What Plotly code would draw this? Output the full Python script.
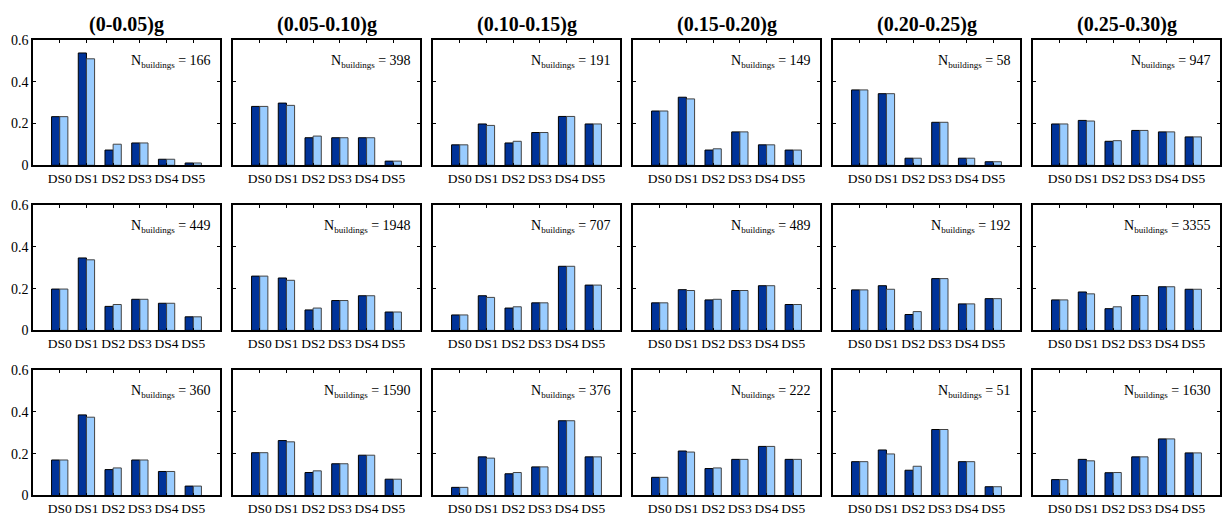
import plotly.graph_objects as go

categories = ["DS0", "DS1", "DS2", "DS3", "DS4", "DS5"]
pga_titles = ["(0-0.05)g", "(0.05-0.10)g", "(0.10-0.15)g", "(0.15-0.20)g", "(0.20-0.25)g", "(0.25-0.30)g"]

# Row 1
r1_observed = [
    [0.233, 0.538, 0.073, 0.107, 0.029, 0.011],
    [0.282, 0.298, 0.132, 0.132, 0.132, 0.020],
    [0.098, 0.198, 0.107, 0.157, 0.234, 0.198],
    [0.260, 0.326, 0.073, 0.160, 0.098, 0.073],
    [0.361, 0.343, 0.034, 0.206, 0.034, 0.017],
    [0.198, 0.215, 0.115, 0.167, 0.160, 0.136],
]
r1_model = [
    [0.233, 0.510, 0.101, 0.107, 0.029, 0.011],
    [0.282, 0.287, 0.140, 0.132, 0.132, 0.020],
    [0.098, 0.191, 0.115, 0.157, 0.234, 0.198],
    [0.260, 0.318, 0.079, 0.160, 0.098, 0.073],
    [0.361, 0.343, 0.034, 0.206, 0.034, 0.017],
    [0.198, 0.212, 0.118, 0.167, 0.160, 0.136],
]
r1_counts = [166, 398, 191, 149, 58, 947]

# Row 2
r2_observed = [
    [0.198, 0.347, 0.115, 0.149, 0.130, 0.065],
    [0.260, 0.251, 0.098, 0.143, 0.166, 0.088],
    [0.074, 0.166, 0.107, 0.132, 0.307, 0.217],
    [0.132, 0.195, 0.146, 0.191, 0.214, 0.124],
    [0.194, 0.214, 0.076, 0.248, 0.127, 0.152],
    [0.146, 0.184, 0.104, 0.167, 0.209, 0.197],
]
r2_model = [
    [0.198, 0.338, 0.124, 0.149, 0.130, 0.065],
    [0.260, 0.240, 0.107, 0.143, 0.166, 0.088],
    [0.074, 0.158, 0.113, 0.132, 0.307, 0.217],
    [0.132, 0.191, 0.149, 0.191, 0.214, 0.124],
    [0.194, 0.197, 0.090, 0.248, 0.127, 0.152],
    [0.146, 0.175, 0.113, 0.167, 0.209, 0.197],
]
r2_counts = [449, 1948, 707, 489, 192, 3355]

# Row 3
r3_observed = [
    [0.170, 0.386, 0.124, 0.170, 0.115, 0.045],
    [0.205, 0.263, 0.110, 0.152, 0.193, 0.078],
    [0.039, 0.185, 0.104, 0.137, 0.358, 0.185],
    [0.087, 0.213, 0.129, 0.173, 0.235, 0.173],
    [0.162, 0.218, 0.121, 0.316, 0.162, 0.042],
    [0.076, 0.173, 0.109, 0.185, 0.271, 0.204],
]
r3_model = [
    [0.170, 0.375, 0.132, 0.170, 0.115, 0.045],
    [0.205, 0.257, 0.118, 0.152, 0.193, 0.078],
    [0.039, 0.179, 0.110, 0.137, 0.358, 0.185],
    [0.087, 0.208, 0.132, 0.173, 0.235, 0.173],
    [0.162, 0.199, 0.140, 0.316, 0.162, 0.042],
    [0.076, 0.166, 0.110, 0.185, 0.271, 0.204],
]
r3_counts = [360, 1590, 376, 222, 51, 1630]

y_ticks = [0, 0.2, 0.4, 0.6]
y_tick_labels = ["0", "0.2", "0.4", "0.6"]

rows_obs = [r1_observed, r2_observed, r3_observed]
rows_mod = [r1_model, r2_model, r3_model]
rows_cnt = [r1_counts, r2_counts, r3_counts]

W, H = 1227, 520
FONT = "Liberation Serif"
DARK = "#003399"
LIGHT = "#99CCFF"

fig = go.Figure()
layout = {}
annotations = []

left0, col_step, pw = 33, 200, 187
top0, row_step, ph = 34, 170, 129

for r in range(3):
    for c in range(6):
        idx = r * 6 + c + 1
        sfx = "" if idx == 1 else str(idx)
        xa, ya = "x" + sfx, "y" + sfx
        fig.add_trace(go.Bar(
            x=categories, y=rows_obs[r][c], xaxis=xa, yaxis=ya,
            marker=dict(color=DARK, line=dict(color="#000000", width=1)),
            showlegend=False, hoverinfo="y"))
        fig.add_trace(go.Bar(
            x=categories, y=rows_mod[r][c], xaxis=xa, yaxis=ya,
            marker=dict(color=LIGHT, line=dict(color="#444444", width=1)),
            showlegend=False, hoverinfo="y"))
        left = left0 + c * col_step
        top = top0 + r * row_step
        layout["xaxis" + sfx] = dict(
            domain=[left / W, (left + pw) / W], anchor=ya,
            type="category", range=[-1, 6],
            showline=True, linecolor="black", linewidth=1.5, mirror="ticks",
            ticks="inside", ticklen=3, tickcolor="black", tickwidth=1,
            showgrid=False, zeroline=False,
            tickfont=dict(family=FONT, size=13.5, color="black"),
            fixedrange=True)
        layout["yaxis" + sfx] = dict(
            domain=[1 - (top + ph) / H, 1 - top / H], anchor=xa,
            range=[0, 0.6], tickvals=y_ticks, ticktext=y_tick_labels,
            showticklabels=(c == 0),
            showline=True, linecolor="black", linewidth=1.5, mirror="ticks",
            ticks="inside", ticklen=3, tickcolor="black", tickwidth=1,
            showgrid=False, zeroline=False,
            tickfont=dict(family=FONT, size=14, color="black"),
            fixedrange=True)
        annotations.append(dict(
            xref=xa + " domain", yref=ya + " domain", x=0.965, y=0.91,
            xanchor="right", yanchor="top", showarrow=False,
            text="N<sub><span style='font-size:9px'>buildings</span></sub> = %d" % rows_cnt[r][c],
            font=dict(family=FONT, size=14, color="black")))
        if r == 0:
            annotations.append(dict(
                xref="paper", yref="paper", x=(left + pw / 2) / W, y=1 - 18 / H,
                xanchor="center", yanchor="middle", showarrow=False,
                text="<b>%s</b>" % pga_titles[c],
                font=dict(family=FONT, size=20, color="black")))

fig.update_layout(
    **layout,
    annotations=annotations,
    barmode="group", bargap=0.39, bargroupgap=0.0,
    width=W, height=H, margin=dict(l=0, r=0, t=0, b=0),
    paper_bgcolor="white", plot_bgcolor="white",
    font=dict(family=FONT, color="black"),
)

fig.write_html(
    "out.html",
    config={"displayModeBar": False},
    post_script="document.body.style.margin='0';document.body.style.overflow='hidden';",
)
